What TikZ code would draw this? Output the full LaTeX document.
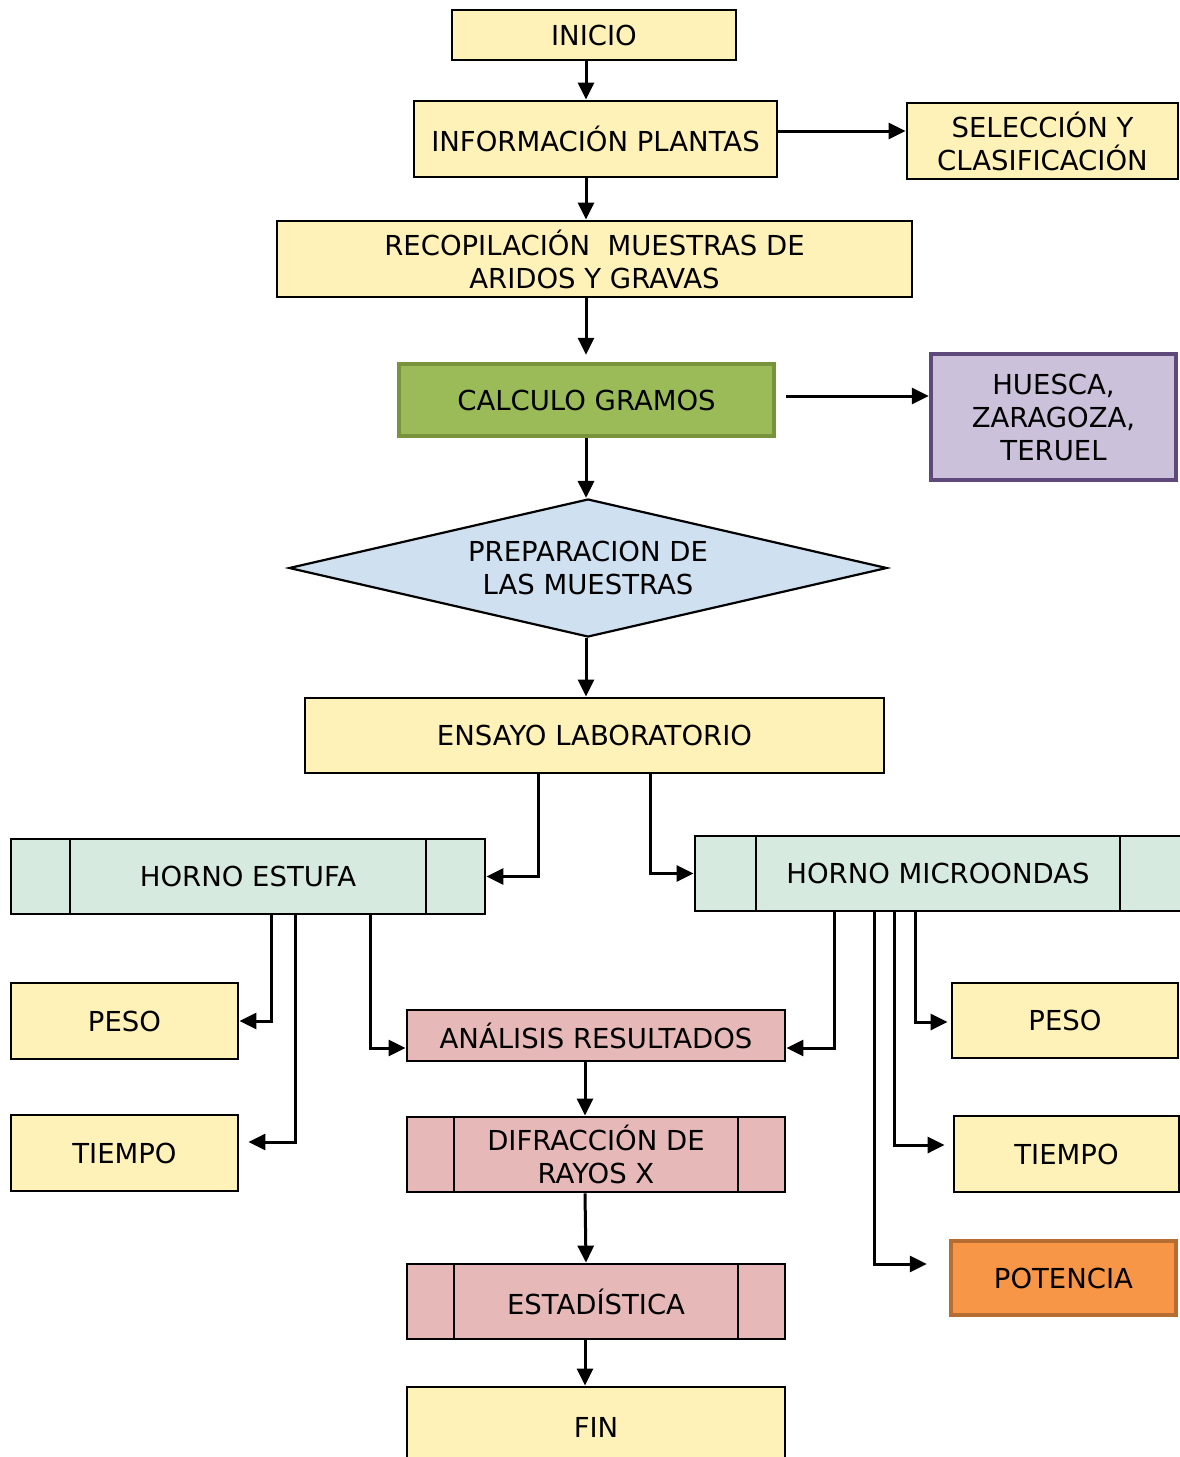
\documentclass[tikz,border=0pt]{standalone}
\usepackage{fontspec}
\setmainfont{DejaVu Sans}
\usetikzlibrary{shapes.geometric,arrows.meta}
\definecolor{amarillo}{HTML}{FFF2B9}
\definecolor{verde}{HTML}{9BBB59}
\definecolor{verdeborde}{HTML}{77933C}
\definecolor{lila}{HTML}{CCC1DA}
\definecolor{lilaborde}{HTML}{5F497A}
\definecolor{azul}{HTML}{CFE0F1}
\definecolor{menta}{HTML}{D6EADF}
\definecolor{rosa}{HTML}{E6B9B8}
\definecolor{naranja}{HTML}{F79646}
\definecolor{naranjaborde}{HTML}{B66D31}

\begin{document}
\begin{tikzpicture}[x=1pt,y=-1pt,font=\fontsize{27.5}{33}\selectfont]

    \tikzset{caja/.style 2 args={draw,line width=2.8pt,fill=amarillo,inner sep=0pt,align=center,minimum width=#1,minimum height=#2},
             barras/.style={path picture={\draw[line width=1.8pt]
                 ([xshift=#1]path picture bounding box.north west) -- ([xshift=#1]path picture bounding box.south west)
                 ([xshift=-#1]path picture bounding box.north east) -- ([xshift=-#1]path picture bounding box.south east);}}}
    \useasboundingbox (0,0) rectangle (1179,1457);
    \coordinate (eje) at (586,0);

    \node[caja={284}{50}] (inicio) at (594,35) {INICIO};
    \node[caja={363}{76}] (info) at (595.5,139) {INFORMACIÓN PLANTAS};
    \node[caja={271}{76}] (selec) at (1042.5,141) {SELECCIÓN Y\\CLASIFICACIÓN};
    \node[caja={635}{76}] (recop) at (594.5,259) {RECOPILACIÓN\ \ MUESTRAS DE\\ARIDOS Y GRAVAS};
    \node[caja={375}{72},fill=verde,draw=verdeborde,line width=4.5pt] (calc) at (586.5,400) {CALCULO GRAMOS};
    \node[caja={245}{126},fill=lila,draw=lilaborde,line width=4.5pt] (prov) at (1053.5,417) {HUESCA,\\ZARAGOZA,\\TERUEL};
    \node[caja={598}{138},shape=diamond,aspect=4.3,fill=azul,line width=2.2pt] (prep) at (588,568) {PREPARACION DE\\LAS MUESTRAS};
    \node[caja={579}{75}] (ensayo) at (594.5,735.5) {ENSAYO LABORATORIO};

    \node[caja={474}{75},fill=menta,barras=59] (estufa) at (248,876.5) {HORNO ESTUFA};
    \node[caja={486}{75},fill=menta,barras=61] (micro) at (938,873.5) {HORNO MICROONDAS};
    \node[caja={227}{76}] (pesoE) at (124.5,1021) {PESO};
    \node[caja={227}{76}] (tiempoE) at (124.5,1153) {TIEMPO};
    \node[caja={226}{75}] (pesoM) at (1065,1020.5) {PESO};
    \node[caja={225}{76}] (tiempoM) at (1066.5,1154) {TIEMPO};
    \node[caja={225}{74},fill=naranja,draw=naranjaborde,line width=4.5pt] (pot) at (1063.5,1278) {POTENCIA};

    \node[caja={378}{51},fill=rosa] (anal) at (596,1035.5) {ANÁLISIS RESULTADOS};
    \node[caja={378}{75},fill=rosa,barras=47] (drx) at (596,1154.5) {DIFRACCIÓN DE\\RAYOS X};
    \node[caja={378}{75},fill=rosa,barras=47] (estad) at (596,1301.5) {ESTADÍSTICA};
    \node[caja={378}{80}] (fin) at (596,1427) {FIN};

    \begin{scope}[every path/.style={-{Triangle[length=17pt,width=16pt]},line width=3pt}]
        \draw (inicio.south -| eje) -- (info.north -| eje);
        \draw (info.east |- 0,131) -- (selec.west |- 0,131);
        \draw (info.south -| eje) -- (recop.north -| eje);
        \draw[shorten >=7pt] (recop.south -| eje) -- (calc.north -| eje);
        \draw[shorten <=10pt] (calc.east |- 0,396) -- (prov.west |- 0,396);
        \draw (calc.south -| eje) -- (prep.north -| eje);
        \draw (prep.south -| eje) -- (ensayo.north -| eje);
        \draw (ensayo.south -| 538,0) |- (estufa.east);
        \draw (ensayo.south -| 650,0) |- (micro.west);
        \draw (estufa.south -| 271,0) |- (pesoE.east);
        \draw[shorten >=9pt] (estufa.south -| 295,0) |- (tiempoE.east |- 0,1142);
        \draw (estufa.south -| 370,0) |- (anal.west |- 0,1048);
        \draw (micro.south -| 834,0) |- (anal.east |- 0,1048);
        \draw[shorten >=3pt] (micro.south -| 915,0) |- (pesoM.west |- 0,1022);
        \draw[shorten >=8pt] (micro.south -| 894,0) |- (tiempoM.west |- 0,1145);
        \draw[shorten >=22pt] (micro.south -| 874,0) |- (pot.west |- 0,1264);
        \draw (anal.south -| 585,0) -- (drx.north -| 585,0);
        \draw (drx.south -| 585,0) -- (estad.north -| 586,0);
        \draw (estad.south -| 585,0) -- (fin.north -| 585,0);
    \end{scope}
\end{tikzpicture}
\end{document}
